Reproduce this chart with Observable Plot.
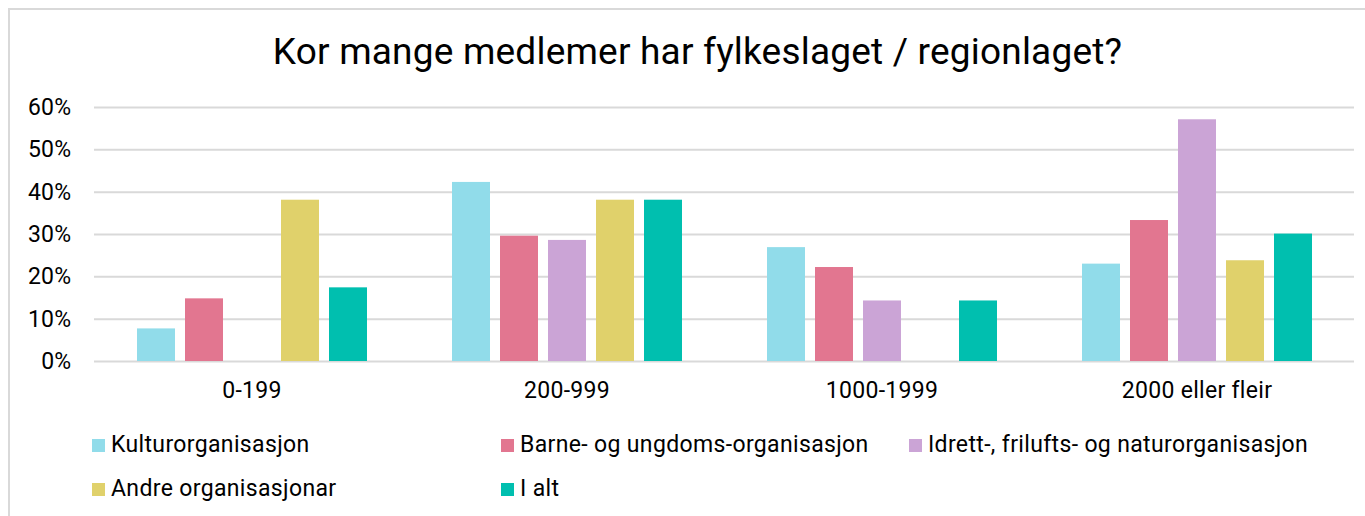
<!DOCTYPE html>
<html>
<head>
<meta charset="utf-8">
<script src="https://cdn.jsdelivr.net/npm/d3@7"></script>
<script src="https://cdn.jsdelivr.net/npm/@observablehq/plot@0.6"></script>
<style>
  html, body { margin: 0; padding: 0; background: #fff; overflow: hidden; }
  body { position: relative; width: 1365px; height: 516px; font-family: Roboto, sans-serif; color: #000; }
  #frame { position: absolute; left: 8px; top: 8px; width: 1400px; height: 600px;
           border-left: 2px solid #d9d9d9; border-top: 2px solid #d9d9d9; pointer-events: none; }
  #title { box-sizing: border-box; width: 1365px; padding-left: 30px; padding-top: 31px; height: 90px;
           text-align: center; font-size: 37px; letter-spacing: 0.2px; line-height: 42px; white-space: nowrap; }
  #chart svg { display: block; }
  #chart svg text { letter-spacing: 0.3px; }
  #legend { position: relative; height: 110px; }
  .item { position: absolute; display: flex; align-items: center; font-size: 23px; letter-spacing: 0.35px; white-space: nowrap; line-height: 26px; }
  .sw { width: 13px; height: 13px; margin-right: 6px; flex: none; }
</style>
</head>
<body>
<div id="frame"></div>
<div id="title"></div>
<div id="chart"></div>
<div id="legend"></div>
<script>
const title = "Kor mange medlemer har fylkeslaget / regionlaget?";
const groups = ["0-199", "200-999", "1000-1999", "2000 eller fleir"];
const series = [
  "Kulturorganisasjon",
  "Barne- og ungdoms-organisasjon",
  "Idrett-, frilufts- og naturorganisasjon",
  "Andre organisasjonar",
  "I alt"
];
const colors = ["#91dcea", "#e27690", "#cba4d6", "#e0d16b", "#00bfaf"];
const kultur = [0.077, 0.423, 0.269, 0.230];
const barne  = [0.148, 0.296, 0.222, 0.333];
const idrett = [0.0,   0.286, 0.143, 0.571];
const andre  = [0.381, 0.381, 0.0,   0.238];
const ialt   = [0.174, 0.381, 0.143, 0.301];
const yTicks = [0, 0.1, 0.2, 0.3, 0.4, 0.5, 0.6];

const valuesBySeries = [kultur, barne, idrett, andre, ialt];
const data = [];
groups.forEach((g, gi) => {
  series.forEach((s, si) => {
    data.push({group: g, series: s, value: valuesBySeries[si][gi]});
  });
});

document.getElementById("title").textContent = title;

const chart = Plot.plot({
  width: 1365,
  height: 316,
  marginLeft: 93,
  marginRight: 10,
  marginTop: 17,
  marginBottom: 45,
  style: {fontFamily: "Roboto, sans-serif", fontSize: "23px", color: "#000", background: "#fff", overflow: "visible"},
  facet: {data, x: "group"},
  fx: {domain: groups, padding: 0, label: null, tickSize: 0, tickPadding: 20, axis: "bottom"},
  x: {domain: series, paddingInner: 0.216, paddingOuter: 0.86, axis: null},
  y: {domain: [0, 0.6], ticks: yTicks, tickFormat: d3.format(".0%"), tickSize: 0, tickPadding: 23, label: null},
  color: {domain: series, range: colors},
  marks: [
    Plot.ruleY(yTicks, {stroke: "#d9d9d9", strokeWidth: 2}),
    Plot.barY(data, {x: "series", y: "value", fill: "series", inset: 0})
  ]
});
document.getElementById("chart").appendChild(chart);

const legendPos = [
  [92, 26], [501, 26], [909, 26],
  [92, 70], [501, 70]
];
const legend = document.getElementById("legend");
series.forEach((s, i) => {
  const item = document.createElement("div");
  item.className = "item";
  item.style.left = legendPos[i][0] + "px";
  item.style.top = legendPos[i][1] + "px";
  const sw = document.createElement("span");
  sw.className = "sw";
  sw.style.background = colors[i];
  const t = document.createElement("span");
  t.textContent = s;
  item.appendChild(sw);
  item.appendChild(t);
  legend.appendChild(item);
});
</script>
</body>
</html>
